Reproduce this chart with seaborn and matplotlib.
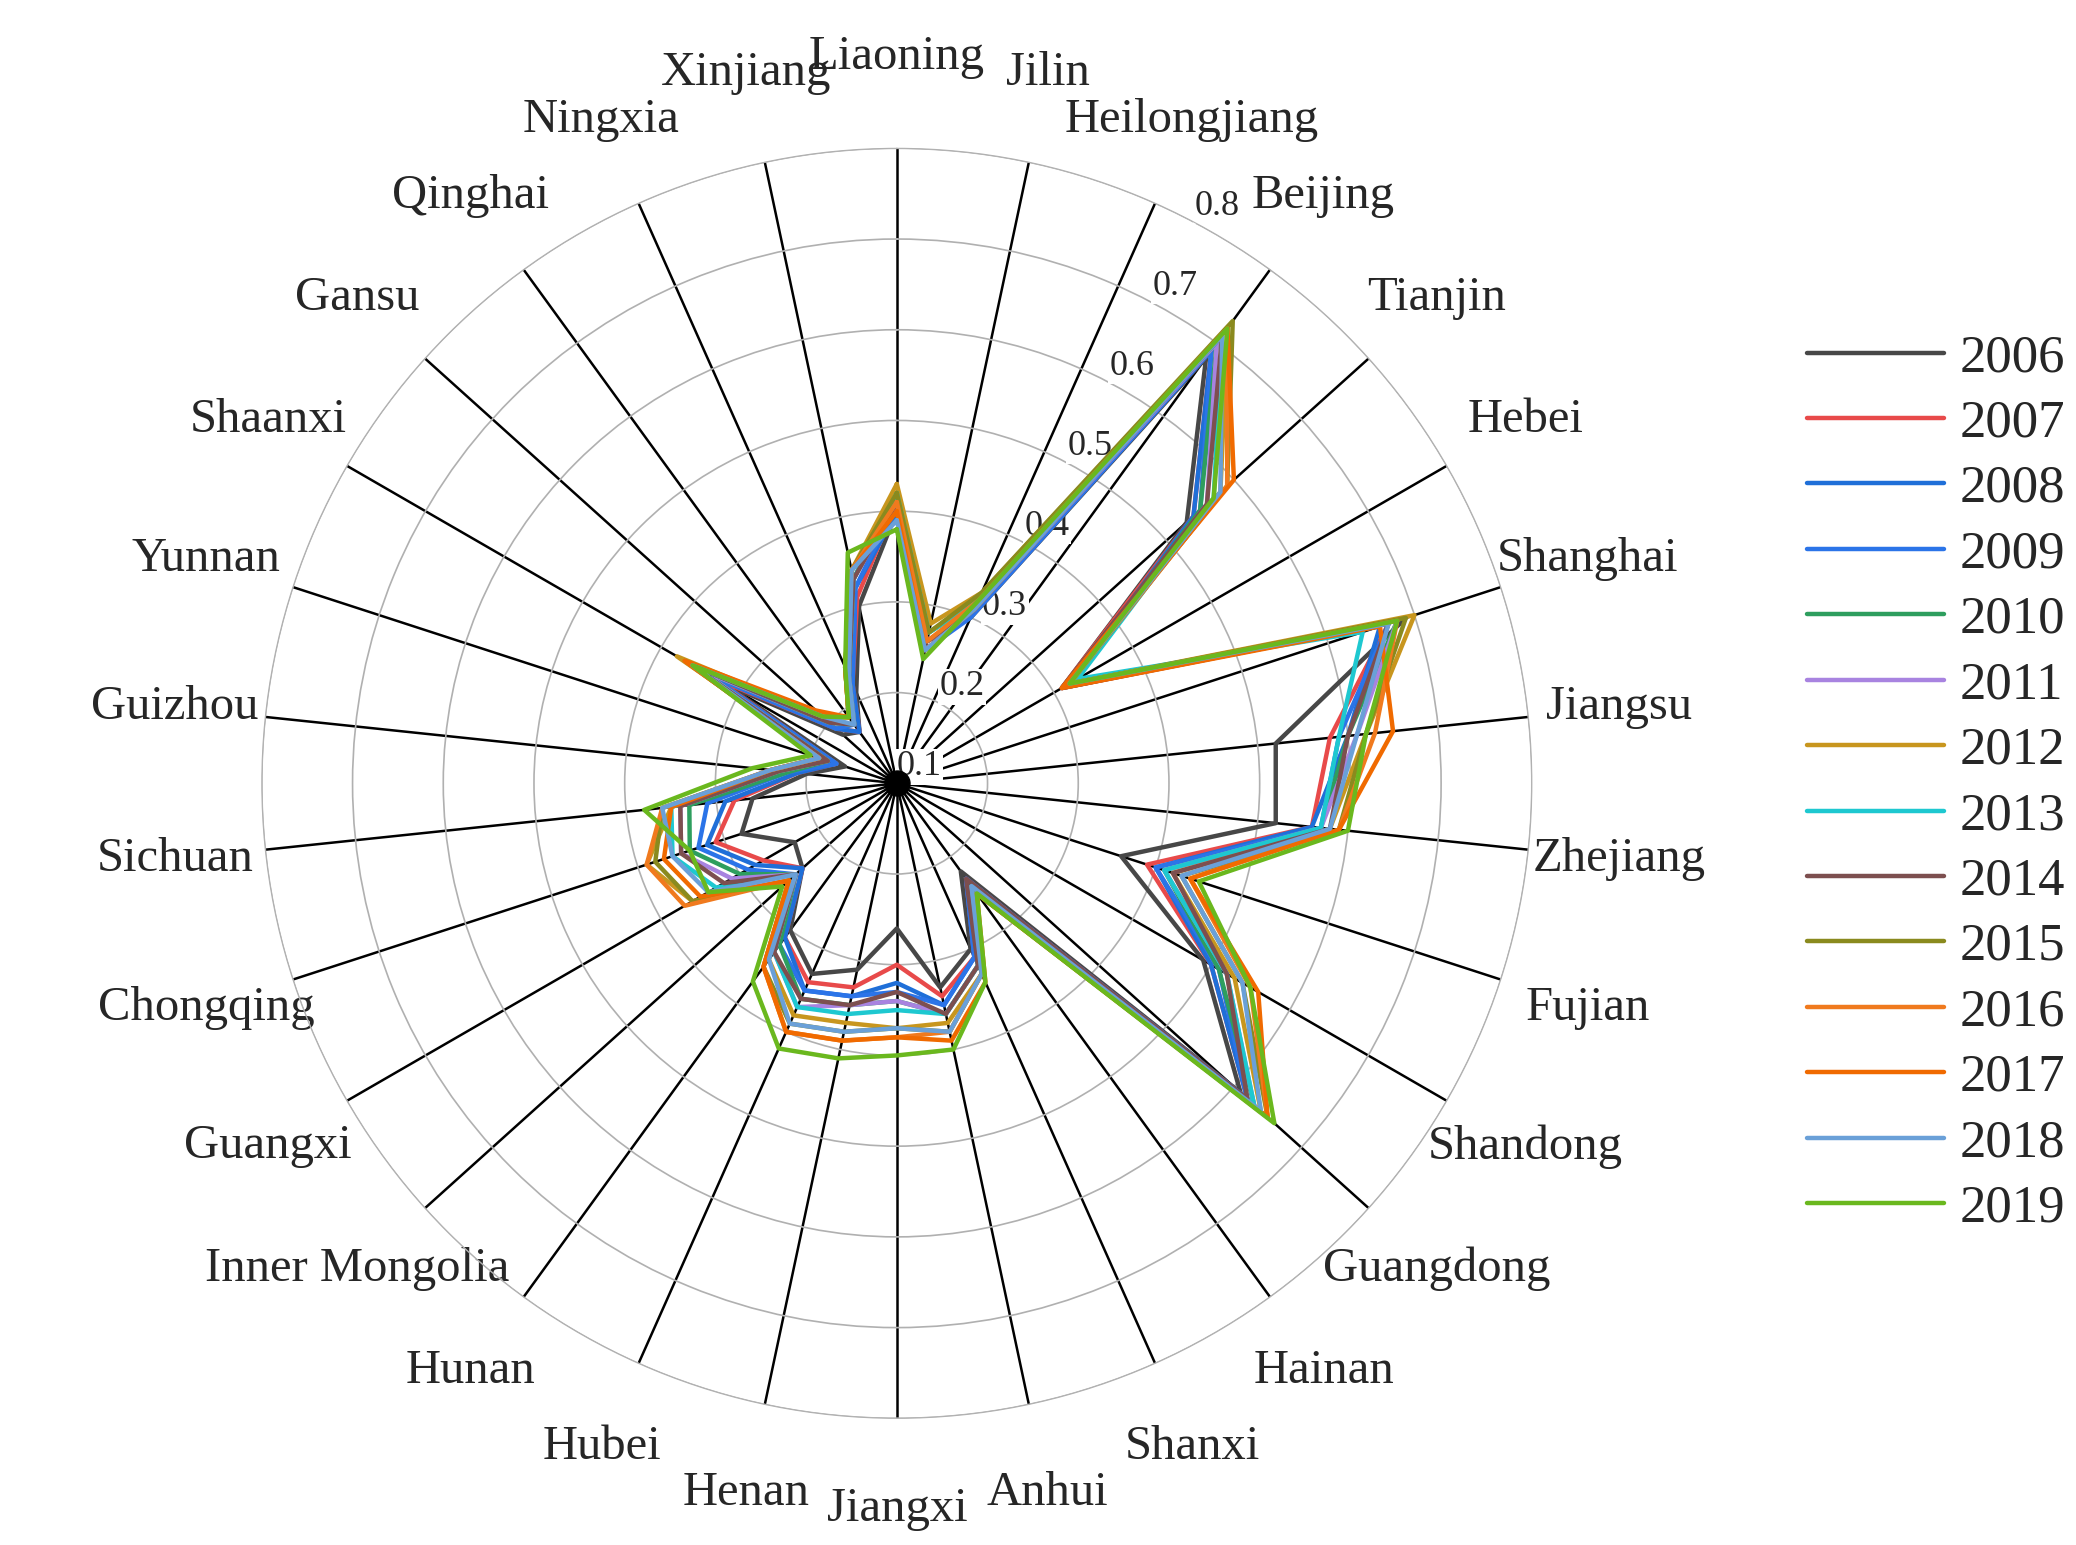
import numpy as np
import pandas as pd
import matplotlib.pyplot as plt
import seaborn as sns

provinces = ["Liaoning", "Jilin", "Heilongjiang", "Beijing", "Tianjin", "Hebei", "Shanghai",
             "Jiangsu", "Zhejiang", "Fujian", "Shandong", "Guangdong", "Hainan", "Shanxi",
             "Anhui", "Jiangxi", "Henan", "Hubei", "Hunan", "Inner Mongolia", "Guangxi",
             "Chongqing", "Sichuan", "Guizhou", "Yunnan", "Shaanxi", "Gansu", "Qinghai",
             "Ningxia", "Xinjiang"]
years = list(range(2006, 2020))

# one row per province, one value per year 2006..2019
values = {
    "Liaoning":       [0.40, 0.41, 0.40, 0.41, 0.42, 0.41, 0.43, 0.42, 0.41, 0.42, 0.41, 0.40, 0.39, 0.38],
    "Jilin":          [0.26, 0.25, 0.26, 0.25, 0.27, 0.26, 0.28, 0.27, 0.26, 0.27, 0.26, 0.25, 0.25, 0.24],
    "Heilongjiang":   [0.30, 0.31, 0.31, 0.30, 0.32, 0.31, 0.33, 0.32, 0.31, 0.33, 0.32, 0.31, 0.31, 0.32],
    "Beijing":        [0.68, 0.69, 0.69, 0.69, 0.70, 0.70, 0.72, 0.71, 0.71, 0.73, 0.72, 0.72, 0.71, 0.72],
    "Tianjin":        [0.53, 0.54, 0.54, 0.55, 0.55, 0.56, 0.58, 0.57, 0.56, 0.59, 0.59, 0.60, 0.58, 0.57],
    "Hebei":          [0.31, 0.31, 0.32, 0.32, 0.32, 0.32, 0.32, 0.33, 0.31, 0.32, 0.32, 0.31, 0.32, 0.32],
    "Shanghai":       [0.69, 0.67, 0.66, 0.67, 0.68, 0.68, 0.70, 0.64, 0.67, 0.69, 0.68, 0.66, 0.67, 0.68],
    "Jiangsu":        [0.52, 0.58, 0.60, 0.59, 0.60, 0.61, 0.62, 0.59, 0.60, 0.62, 0.63, 0.65, 0.61, 0.62],
    "Zhejiang":       [0.52, 0.56, 0.56, 0.57, 0.57, 0.57, 0.58, 0.57, 0.58, 0.59, 0.59, 0.59, 0.58, 0.60],
    "Fujian":         [0.36, 0.39, 0.40, 0.40, 0.41, 0.41, 0.42, 0.41, 0.42, 0.43, 0.44, 0.44, 0.43, 0.45],
    "Shandong":       [0.49, 0.50, 0.50, 0.51, 0.51, 0.52, 0.53, 0.52, 0.52, 0.54, 0.55, 0.56, 0.54, 0.55],
    "Guangdong":      [0.61, 0.62, 0.62, 0.62, 0.63, 0.63, 0.64, 0.63, 0.62, 0.65, 0.65, 0.65, 0.64, 0.66],
    "Hainan":         [0.22, 0.23, 0.23, 0.23, 0.24, 0.24, 0.24, 0.24, 0.23, 0.25, 0.25, 0.25, 0.24, 0.25],
    "Shanxi":         [0.30, 0.31, 0.31, 0.31, 0.32, 0.32, 0.33, 0.32, 0.32, 0.33, 0.33, 0.34, 0.33, 0.34],
    "Anhui":          [0.33, 0.34, 0.35, 0.35, 0.36, 0.36, 0.37, 0.36, 0.36, 0.38, 0.38, 0.39, 0.38, 0.40],
    "Jiangxi":        [0.26, 0.30, 0.32, 0.33, 0.34, 0.34, 0.37, 0.35, 0.33, 0.37, 0.38, 0.38, 0.37, 0.40],
    "Henan":          [0.31, 0.33, 0.34, 0.34, 0.35, 0.35, 0.37, 0.36, 0.35, 0.38, 0.39, 0.39, 0.38, 0.41],
    "Hubei":          [0.33, 0.34, 0.35, 0.35, 0.36, 0.37, 0.38, 0.37, 0.36, 0.39, 0.40, 0.40, 0.39, 0.42],
    "Hunan":          [0.30, 0.31, 0.31, 0.32, 0.32, 0.33, 0.34, 0.33, 0.33, 0.35, 0.35, 0.35, 0.34, 0.37],
    "Inner Mongolia": [0.24, 0.24, 0.24, 0.25, 0.25, 0.25, 0.26, 0.25, 0.25, 0.26, 0.26, 0.26, 0.25, 0.27],
    "Guangxi":        [0.23, 0.27, 0.28, 0.29, 0.30, 0.31, 0.36, 0.33, 0.32, 0.36, 0.37, 0.35, 0.34, 0.34],
    "Chongqing":      [0.28, 0.31, 0.32, 0.33, 0.34, 0.35, 0.39, 0.36, 0.35, 0.38, 0.39, 0.37, 0.36, 0.34],
    "Sichuan":        [0.26, 0.28, 0.29, 0.31, 0.33, 0.34, 0.35, 0.35, 0.34, 0.36, 0.36, 0.35, 0.36, 0.38],
    "Guizhou":        [0.20, 0.21, 0.21, 0.22, 0.22, 0.23, 0.23, 0.23, 0.23, 0.24, 0.24, 0.24, 0.24, 0.26],
    "Yunnan":         [0.16, 0.17, 0.17, 0.17, 0.18, 0.18, 0.18, 0.18, 0.18, 0.19, 0.19, 0.19, 0.19, 0.20],
    "Shaanxi":        [0.32, 0.33, 0.34, 0.34, 0.35, 0.35, 0.38, 0.36, 0.36, 0.37, 0.37, 0.37, 0.36, 0.36],
    "Gansu":          [0.18, 0.19, 0.19, 0.19, 0.20, 0.20, 0.21, 0.20, 0.20, 0.21, 0.21, 0.22, 0.21, 0.21],
    "Qinghai":        [0.17, 0.17, 0.17, 0.18, 0.18, 0.18, 0.19, 0.18, 0.18, 0.19, 0.19, 0.19, 0.18, 0.19],
    "Ningxia":        [0.21, 0.22, 0.22, 0.22, 0.23, 0.23, 0.24, 0.23, 0.23, 0.24, 0.24, 0.24, 0.23, 0.24],
    "Xinjiang":       [0.30, 0.31, 0.32, 0.32, 0.33, 0.33, 0.34, 0.33, 0.33, 0.34, 0.34, 0.34, 0.34, 0.36],
}
colors = ["#474747", "#e84a4a", "#1f6fd8", "#2b74e8", "#2e9e5e", "#a883e0", "#c8961e",
          "#1ec8d0", "#7d4f4f", "#8a8a1e", "#f07a1e", "#f06a00", "#6aa0d8", "#6ab81e"]

sns.set_style("white")
plt.rcParams["font.family"] = ["Liberation Serif", "DejaVu Serif"]

rows = []
for p_i, p in enumerate(provinces):
    for y_i, y in enumerate(years):
        rows.append({"province": p, "idx": p_i, "year": y, "value": values[p][y_i]})
df = pd.DataFrame(rows)

n = len(provinces)
theta = np.arange(n) * 2 * np.pi / n

fig = plt.figure(figsize=(20.76, 15.45), dpi=100)
ax = fig.add_axes([0.126, 0.082, 0.612, 0.822], projection="polar")
ax.set_theta_zero_location("N")
ax.set_theta_direction(-1)
ax.set_ylim(0.1, 0.8)

for i, y in enumerate(years):
    d = df[df.year == y].sort_values("idx")
    t = np.append(theta[d.idx.values], theta[0])
    v = np.append(d.value.values, d.value.values[0])
    ax.plot(t, v, color=colors[i], lw=3.2, label=str(y))

# spokes
for t in theta:
    ax.plot([t, t], [0.1, 0.8], color="black", lw=1.8, zorder=0.5)
ax.plot(0, 0.1, "o", color="black", ms=18)

ax.set_xticks(theta)
ax.set_xticklabels(provinces, fontsize=35)
ax.tick_params(axis="x", pad=55)
ax.xaxis.grid(False)
ax.set_yticks([0.1, 0.2, 0.3, 0.4, 0.5, 0.6, 0.7, 0.8])
ax.set_yticklabels(["0.1", "0.2", "0.3", "0.4", "0.5", "0.6", "0.7", "0.8"], fontsize=26)
ax.set_rlabel_position(28)
for lab in ax.get_yticklabels():
    lab.set_bbox(dict(facecolor="white", edgecolor="none", pad=1))
ax.yaxis.grid(True, color="#b0b0b0", lw=1.2)
ax.spines["polar"].set_color("#b0b0b0")

ax.legend(loc="center left", bbox_to_anchor=(1.2, 0.5), frameon=False, fontsize=38,
          handlelength=2.6, labelspacing=0.33, handletextpad=0.3, borderaxespad=0)

fig.savefig("out.png", dpi=100)
